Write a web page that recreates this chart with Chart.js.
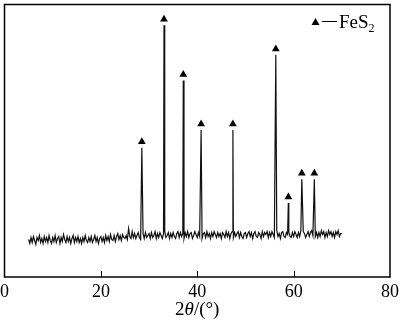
<!DOCTYPE html>
<html>
<head>
<meta charset="UTF-8">
<title>XRD FeS2</title>
<script src="https://cdn.jsdelivr.net/npm/chart.js"></script>
<style>
  html, body { margin: 0; padding: 0; background: #fff; }
  #wrap { width: 400px; height: 322px; }
</style>
</head>
<body>
<div id="wrap"><canvas id="xrd"></canvas></div>
<script>
// background scan, one value every 0.25 deg from 5 to 70
const scanStart = 5;
const scanStep = 0.25;
const baseline = [
  38,34,40,35,41,37,33,40,37,42,35,39,34,41,36,40,35,42,37,34,
  40,36,42,35,39,41,34,40,36,43,38,35,41,36,40,34,39,42,35,40,
  36,41,35,39,34,40,36,42,37,35,40,36,41,35,38,42,36,40,34,39,
  41,36,40,35,42,37,41,36,43,38,37,42,36,41,44,38,42,37,43,40,
  39,42,38,49,41,39,46,40,44,39,42,45,40,38,43,44,39,45,40,42,
  44,39,45,40,42,46,39,44,40,45,42,39,44,46,40,42,45,39,44,40,
  45,41,39,44,46,40,45,41,44,39,45,41,46,40,44,45,39,42,46,43,
  40,45,41,46,39,44,45,40,46,41,44,39,45,41,46,43,40,45,41,44,
  39,45,43,40,46,41,45,39,44,46,40,45,41,44,46,40,45,41,39,44,
  45,40,44,46,41,45,39,44,46,41,40,45,43,39,46,41,45,43,46,40,
  45,41,46,43,40,45,47,41,44,39,45,46,41,40,45,43,46,41,40,45,
  41,46,43,40,45,41,47,43,46,44,40,43,46,41,45,47,42,46,41,45,
  40,45,41,47,43,46,40,45,41,47,43,46,41,45,40,46,43,47,41,44,
  44
];
// FeS2 reflections
const peakPos = [28.5, 33.1, 37.1, 40.8, 47.4, 56.3, 58.9, 61.7, 64.3];
const peakInt = [131, 255, 199, 149, 149, 225, 75, 99, 99];
const xTicks = [0, 20, 40, 60, 80];

const scan = [];
baseline.forEach((v, i) => {
  const x = scanStart + i * scanStep;
  if (!peakPos.some(p => Math.abs(p - x) < 0.05)) scan.push({ x: x, y: v });
});
peakPos.forEach((p, i) => scan.push({ x: p, y: peakInt[i] }));
scan.sort((a, b) => a.x - b.x);

const markers = peakPos.map((p, i) => ({ x: p, y: peakInt[i] + 6 }));

const serif = '"Liberation Serif", "Times New Roman", serif';

const decor = {
  id: 'decor',
  afterDraw(chart) {
    const ctx = chart.ctx;
    const a = chart.chartArea;
    const xs = chart.scales.x;
    ctx.save();
    // frame
    ctx.strokeStyle = '#000';
    ctx.lineWidth = 1.5;
    ctx.strokeRect(a.left, a.top, a.right - a.left, a.bottom - a.top);
    // inward ticks
    ctx.lineWidth = 1;
    [20, 40, 60].forEach(v => {
      const px = Math.round(xs.getPixelForValue(v)) + 0.5;
      ctx.beginPath();
      ctx.moveTo(px, a.bottom);
      ctx.lineTo(px, a.bottom - 6);
      ctx.stroke();
    });
    // axis title: 2θ/(°)
    ctx.fillStyle = '#000';
    ctx.textBaseline = 'alphabetic';
    ctx.textAlign = 'left';
    const parts = [['2', ''], ['θ', 'italic '], ['/(°)', '']];
    let w = 0;
    parts.forEach(p => { ctx.font = p[1] + '19px ' + serif; w += ctx.measureText(p[0]).width; });
    let tx = (a.left + a.right) / 2 - w / 2;
    parts.forEach(p => {
      ctx.font = p[1] + '19px ' + serif;
      ctx.fillText(p[0], tx, 315);
      tx += ctx.measureText(p[0]).width;
    });
    // legend
    ctx.beginPath();
    ctx.moveTo(311.5, 25);
    ctx.lineTo(315.5, 18);
    ctx.lineTo(319.5, 25);
    ctx.closePath();
    ctx.fill();
    ctx.beginPath();
    ctx.moveTo(322, 21.5);
    ctx.lineTo(337, 21.5);
    ctx.stroke();
    ctx.font = '19px ' + serif;
    ctx.fillText('FeS', 339, 28);
    const fw = ctx.measureText('FeS').width;
    ctx.font = '12px ' + serif;
    ctx.fillText('2', 339 + fw, 32);
    ctx.restore();
  }
};

new Chart(document.getElementById('xrd'), {
  type: 'line',
  data: {
    datasets: [
      { data: scan, borderColor: '#111', borderWidth: 1.2, pointRadius: 0, tension: 0 },
      { data: markers, showLine: false, pointStyle: 'triangle', pointRadius: 4.5,
        backgroundColor: '#000', borderColor: '#000', borderWidth: 0 }
    ]
  },
  options: {
    responsive: true,
    maintainAspectRatio: false,
    animation: false,
    layout: { padding: { left: 4, right: 10, top: 1, bottom: 0 } },
    plugins: { legend: { display: false }, tooltip: { enabled: false } },
    scales: {
      x: {
        type: 'linear', min: 0, max: 80,
        grid: { display: false }, border: { display: false },
        afterBuildTicks: s => { s.ticks = xTicks.map(v => ({ value: v })); },
        afterFit: s => { s.height = 45; s.paddingLeft = 0; s.paddingRight = 0; },
        ticks: { color: '#000', padding: -4, maxRotation: 0,
          font: { family: serif, size: 18 } }
      },
      y: { display: false, min: 0, max: 276 }
    }
  },
  plugins: [decor]
});
</script>
</body>
</html>
